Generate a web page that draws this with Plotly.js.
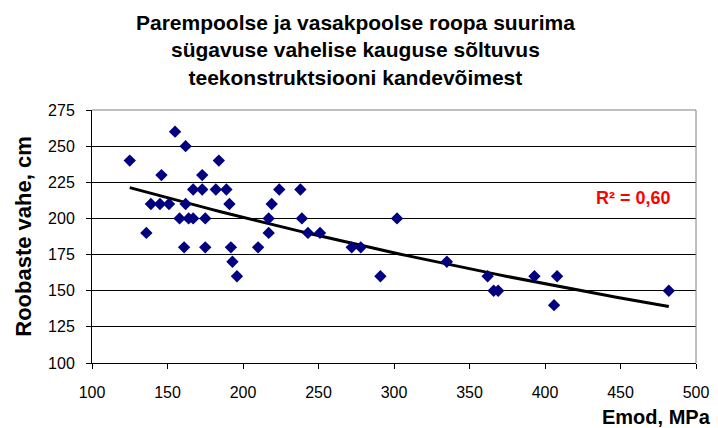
<!DOCTYPE html>
<html>
<head>
<meta charset="utf-8">
<script src="https://cdn.plot.ly/plotly-3.0.1.min.js"></script>
<style>html,body{margin:0;padding:0;background:#fff;}#chart{width:718px;height:428px;}</style>
</head>
<body>
<div id="chart"></div>
<script>
// Emod, MPa
const emod = [125,136,139,145,146,151,155,158,161,162,162,164,167,167,173,173,175,175,182,184,189,191,192,193,196,210,217,217,219,224,238,239,243,251,272,278,291,302,335,362,366,369,393,408,406,482];
// Roobaste vahe, cm
const vahe = [240,190,210,210,230,210,260,200,180,250,210,200,200,220,230,220,200,180,220,240,220,210,180,170,160,180,200,190,210,220,220,200,190,190,180,180,160,200,170,160,150,150,160,160,140,150];
const xTicks = [100,150,200,250,300,350,400,450,500];
const yTicks = [100,125,150,175,200,225,250,275];
const titleText = 'Parempoolse ja vasakpoolse roopa suurima<br>sügavuse vahelise kauguse sõltuvus<br>teekonstruktsiooni kandevõimest';
const r2Text = 'R² = 0,60';

// exponential trendline fit: ln(y) = a + b x
const n = emod.length;
let sx=0, sy=0, sxx=0, sxy=0;
for (let i=0;i<n;i++){const lx=emod[i], ly=Math.log(vahe[i]); sx+=lx; sy+=ly; sxx+=lx*lx; sxy+=lx*ly;}
const b = (n*sxy - sx*sy)/(n*sxx - sx*sx);
const a = (sy - b*sx)/n;
const xmin = Math.min(...emod), xmax = Math.max(...emod);
const tx = [], ty = [];
for (let i=0;i<=60;i++){const x = xmin + (xmax-xmin)*i/60; tx.push(x); ty.push(Math.exp(a+b*x));}

const font = 'Liberation Sans, Arial, sans-serif';
const data = [
  {x: tx, y: ty, type:'scatter', mode:'lines', line:{color:'#000', width:3}, hoverinfo:'skip', showlegend:false},
  {x: emod, y: vahe, type:'scatter', mode:'markers', marker:{symbol:'diamond', size:9.5, color:'#000080'}, showlegend:false}
];
const layout = {
  width:718, height:428,
  margin:{l:92, r:22, t:110, b:65},
  paper_bgcolor:'#fff', plot_bgcolor:'#fff',
  font:{family:font, color:'#000'},
  title:{text:titleText, font:{family:font, size:21, color:'#000', weight:'bold'}, xref:'container', x:0.495, xanchor:'center', yref:'container', y:0.93, yanchor:'top'},
  xaxis:{range:[100,500], tickvals:xTicks, ticktext:xTicks.map(String), showgrid:false, zeroline:false, showline:true, linecolor:'#000', linewidth:1, ticks:'outside', ticklen:5, tickcolor:'#000', tickfont:{size:16, family:font}, ticklabelstandoff:10},
  yaxis:{range:[100,275], tickvals:yTicks, ticktext:yTicks.map(String), showgrid:true, gridcolor:'#000', gridwidth:1, zeroline:false, showline:true, linecolor:'#000', linewidth:1, ticks:'outside', ticklen:5, tickcolor:'#000', tickfont:{size:16, family:font}, ticklabelstandoff:8,
    title:{text:'Roobaste vahe, cm', font:{family:font, size:22, weight:'bold'}, standoff:10}},
  shapes:[
    {type:'line', xref:'paper', yref:'paper', x0:0, x1:1, y0:1, y1:1, line:{color:'#808080', width:1}},
    {type:'line', xref:'paper', yref:'paper', x0:1, x1:1, y0:0, y1:1, line:{color:'#808080', width:1}}
  ],
  annotations:[
    {text:r2Text, xref:'paper', yref:'paper', x:0.896, y:0.651, xanchor:'center', yanchor:'middle', showarrow:false, font:{family:font, size:18, color:'#FF0000', weight:'bold'}},
    {text:'Emod, MPa', xref:'paper', yref:'paper', x:1.028, y:-0.213, xanchor:'right', yanchor:'middle', showarrow:false, font:{family:font, size:20, color:'#000', weight:'bold'}}
  ]
};
Plotly.newPlot('chart', data, layout, {displayModeBar:false, staticPlot:true});
</script>
</body>
</html>
